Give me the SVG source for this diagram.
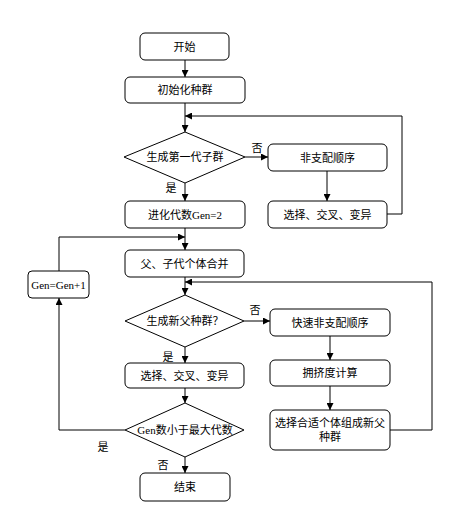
<svg xmlns="http://www.w3.org/2000/svg" width="454" height="515" viewBox="0 0 454 515">
<style>
.box{fill:#fff;stroke:#000;stroke-width:1}
.ln{fill:none;stroke:#000;stroke-width:1;marker-end:url(#ah)}
text{font-family:"Liberation Serif","Noto Sans CJK SC",serif;font-size:11px;fill:#000;text-anchor:middle}
</style>
<defs>
<marker id="ah" viewBox="0 0 10 10" refX="10" refY="5" markerWidth="7" markerHeight="7" markerUnits="userSpaceOnUse" orient="auto">
<path d="M0,0 L10,5 L0,10 z" fill="#000"/>
</marker>
</defs>
<rect width="454" height="515" fill="#fff"/>
<g id="connectors">
<line class="ln" x1="185" y1="60" x2="185" y2="77"/>
<line class="ln" x1="185" y1="103" x2="185" y2="132"/>
<line class="ln" x1="245" y1="157" x2="268" y2="157"/>
<line class="ln" x1="185" y1="183" x2="185" y2="201"/>
<line class="ln" x1="327" y1="171" x2="327" y2="201"/>
<polyline class="ln" points="387,214 402,214 402,116 185,116"/>
<line class="ln" x1="185" y1="228" x2="185" y2="250"/>
<polyline class="ln" points="59,271 59,237 185,237"/>
<line class="ln" x1="185" y1="277" x2="185" y2="295"/>
<line class="ln" x1="244" y1="321" x2="270" y2="321"/>
<line class="ln" x1="185" y1="347" x2="185" y2="363"/>
<line class="ln" x1="330" y1="336" x2="330" y2="360"/>
<line class="ln" x1="330" y1="386" x2="330" y2="410"/>
<polyline class="ln" points="390,430 432,430 432,282 185,282"/>
<line class="ln" x1="185" y1="388" x2="185" y2="403"/>
<polyline class="ln" points="125,430 59,430 59,298"/>
<line class="ln" x1="185" y1="457" x2="185" y2="473"/>
<text x="257" y="152">否</text>
<text x="171" y="192">是</text>
<text x="255" y="314">否</text>
<text x="168" y="361">是</text>
<text x="103" y="451">是</text>
<text x="163" y="469">否</text>
</g>
<g id="start"><rect class="box" x="140" y="33" width="89" height="27" rx="5"/><text x="184.5" y="50.5">开始</text></g>
<g id="init"><rect class="box" x="125" y="77" width="120" height="26" rx="5"/><text x="185" y="94">初始化种群</text></g>
<g id="d1"><polygon class="box" points="124,157 185,132 245,157 185,183"/><text x="185" y="161">生成第一代子群</text></g>
<g id="nds"><rect class="box" x="268" y="144" width="119" height="27" rx="5"/><text x="327.5" y="161.5">非支配顺序</text></g>
<g id="sel1"><rect class="box" x="268" y="201" width="119" height="27" rx="5"/><text x="327.5" y="218.5">选择、交叉、变异</text></g>
<g id="gen2"><rect class="box" x="125" y="201" width="120" height="27" rx="5"/><text x="185" y="218.5">进化代数Gen=2</text></g>
<g id="merge"><rect class="box" x="125" y="250" width="119" height="27" rx="5"/><text x="184.5" y="267.5">父、子代个体合并</text></g>
<g id="genplus"><rect class="box" x="28" y="271" width="61" height="27" rx="4"/><text x="58.5" y="288.5">Gen=Gen+1</text></g>
<g id="d2"><polygon class="box" points="125,321 185,295 244,321 185,347"/><text x="185" y="325">生成新父种群？</text></g>
<g id="fnds"><rect class="box" x="270" y="309" width="120" height="27" rx="5"/><text x="330" y="326.5">快速非支配顺序</text></g>
<g id="crowd"><rect class="box" x="270" y="360" width="120" height="26" rx="5"/><text x="330" y="377">拥挤度计算</text></g>
<g id="selnew"><rect class="box" x="270" y="410" width="120" height="40" rx="5"/><text x="330" y="427">选择合适个体组成新父</text><text x="330" y="441">种群</text></g>
<g id="sel2"><rect class="box" x="125" y="363" width="119" height="25" rx="5"/><text x="184.5" y="379.5">选择、交叉、变异</text></g>
<g id="d3"><polygon class="box" points="125,430 185,403 244,430 185,457"/><text x="185" y="434">Gen数小于最大代数</text></g>
<g id="end"><rect class="box" x="140" y="473" width="90" height="28" rx="5"/><text x="185" y="491">结束</text></g>
</svg>
